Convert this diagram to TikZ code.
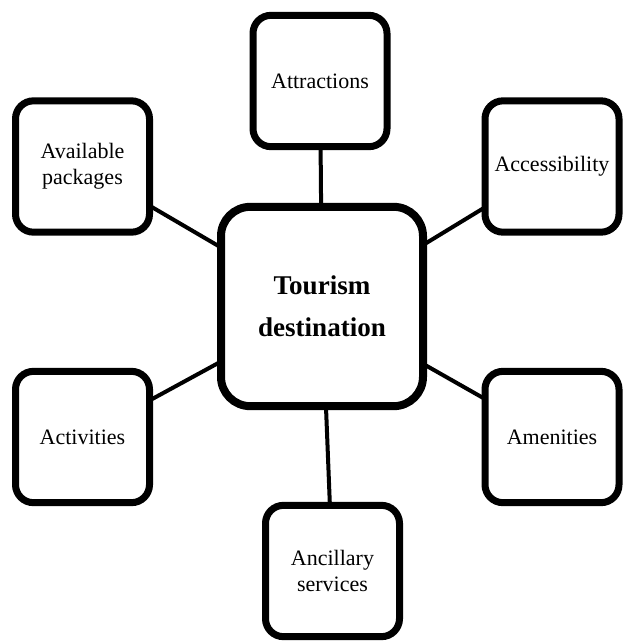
\documentclass[tikz,border=0pt]{standalone}
\usepackage{fontspec}
\setmainfont{Liberation Serif}
\usetikzlibrary{positioning, shadows, backgrounds}

\begin{document}
\begin{tikzpicture}[
    x=0.75pt, y=-0.75pt,
    factor/.style={rectangle, rounded corners=13.5pt, minimum width=100.5pt, minimum height=98.5pt, align=center, draw=black, line width=5.25pt, fill=white, font=\fontsize{16.5}{19.5}\selectfont, drop shadow={opacity=0.18, shadow xshift=0.8pt, shadow yshift=-1.8pt}},
    core/.style={rectangle, rounded corners=22pt, minimum width=151.5pt, minimum height=149.5pt, align=center, draw=black, line width=6pt, fill=white, font=\fontsize{20.3}{31.5}\selectfont\bfseries, drop shadow={opacity=0.18, shadow xshift=0.8pt, shadow yshift=-1.8pt}},
    link/.style={line width=3pt}
]
    \useasboundingbox (0,0) rectangle (624,643);

    \node[core] (dest) at (322,306.5) {Tourism\\destination};
    \node[factor] (attract) at (320,81) {Attractions};
    \node[factor] (pack) at (82.5,166.5) {Available\\packages};
    \node[factor] (access) at (552,166.5) {Accessibility};
    \node[factor] (activ) at (82.5,437) {Activities};
    \node[factor] (amen) at (552,437) {Amenities};
    \node[factor] (ancil) at (332.5,571) {Ancillary\\services};

    % links behind the boxes
    \begin{scope}[on background layer]
        \foreach \n in {attract, pack, access, activ, amen, ancil}
            \draw[link] (\n.center) -- (dest.center);
    \end{scope}

\end{tikzpicture}
\end{document}
